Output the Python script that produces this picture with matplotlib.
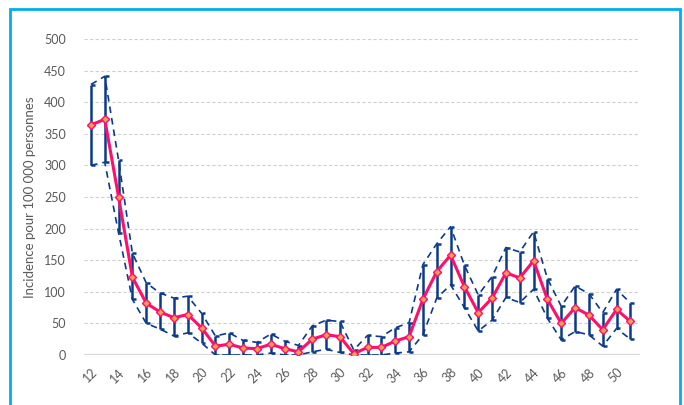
import matplotlib
matplotlib.use('Agg')
import matplotlib.pyplot as plt
from matplotlib.patches import Rectangle
import numpy as np

# ---DATA------------------------------
weeks = list(range(12, 52))
incidence = [364, 373, 250, 123, 82, 68, 59, 64, 43, 14,
             17, 11, 10, 17, 10, 5, 25, 32, 29, 2,
             12, 12, 22, 29, 88, 132, 158, 108, 67, 90,
             130, 122, 149, 88, 50, 75, 63, 40, 72, 53]
upper = [428, 441, 308, 161, 114, 98, 90, 93, 66, 30,
         35, 23, 20, 33, 22, 15, 46, 55, 53, 8,
         31, 29, 43, 51, 143, 176, 203, 142, 95, 124,
         170, 163, 195, 121, 77, 109, 97, 67, 104, 82]
lower = [300, 305, 193, 88, 50, 41, 30, 35, 19, 0,
         0, 0, 0, 3, 0, 0, 5, 9, 4, 0,
         0, 0, 3, 5, 32, 90, 111, 75, 38, 55,
         91, 83, 104, 58, 24, 37, 32, 14, 42, 25]
tick_weeks = list(range(12, 52, 2))

navy = '#0B3A8C'
pink = '#FF0F6B'
grey_txt = '#595959'

plt.rcParams['font.family'] = ['Lato', 'DejaVu Sans']

fig = plt.figure(figsize=(6.84, 4.05), dpi=100)
ax = fig.add_axes([0.1228, 0.1235, 0.813, 0.7802])

# grid
for v in range(50, 501, 50):
    ax.axhline(v, color='#CFCFCF', lw=0.8, ls=(0, (3, 2)), zorder=0)
ax.axhline(0, color='#D9D9D9', lw=1.6, zorder=1)

# bounds
ax.plot(weeks, upper, color=navy, lw=1.2, ls=(0, (4, 3)), zorder=2)
ax.plot(weeks, lower, color=navy, lw=1.2, ls=(0, (4, 3)), zorder=2)

# error bars with right-side caps
ax.vlines(weeks, lower, upper, color=navy, lw=1.8, zorder=3)
cap = 0.28
w = np.array(weeks)
ax.hlines(upper, w, w + cap, color=navy, lw=1.8, zorder=3)
ax.hlines(lower, w, w + cap, color=navy, lw=1.8, zorder=3)

# main series
ax.plot(weeks, incidence, color=pink, lw=2.2, marker='D', ms=4.5,
        mfc='#F0A050', mec=pink, mew=1.0, zorder=4)

ax.set_xlim(11.5, 51.7)
ax.set_ylim(0, 500)
ax.set_yticks(range(0, 501, 50))
ax.set_xticks(tick_weeks)
ax.set_xticklabels([str(t) for t in tick_weeks], rotation=45, ha='right',
                   rotation_mode='anchor')
ax.tick_params(axis='both', length=0, labelsize=9, labelcolor=grey_txt)
ax.tick_params(axis='y', pad=13)
ax.tick_params(axis='x', pad=8)
for s in ax.spines.values():
    s.set_visible(False)

ax.set_ylabel('Incidence pour 100 000 personnes', fontsize=9.5, color=grey_txt,
              labelpad=5.5)

# blue frame around the chart
fig.patches.append(Rectangle((10 / 684, -0.05), 670 / 684, 1 - 9 / 405 + 0.05,
                             transform=fig.transFigure, fill=False,
                             edgecolor='#00AEEF', lw=2.0))

plt.savefig('out.png', dpi=100)
